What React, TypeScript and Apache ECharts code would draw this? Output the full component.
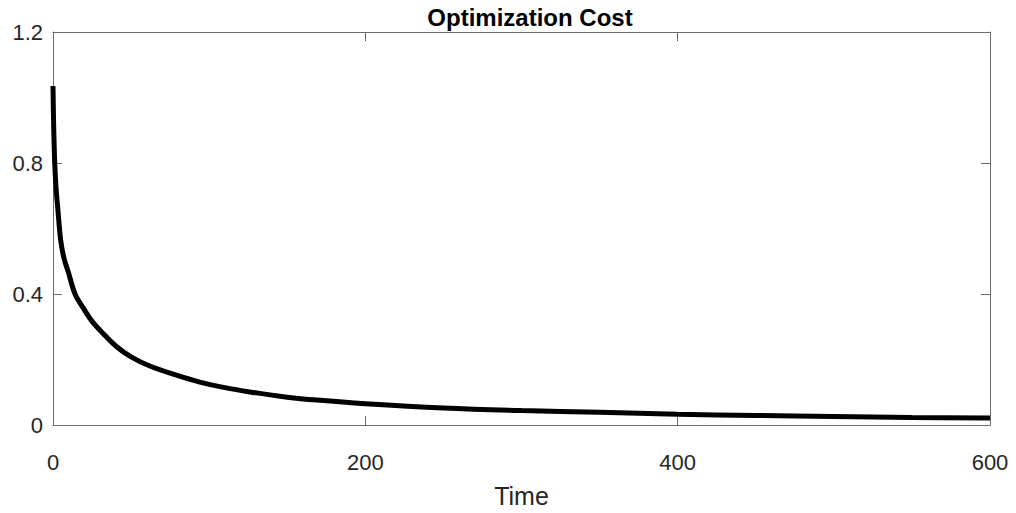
import React, { useEffect, useRef } from "react";
import * as echarts from "echarts";

const titleText = "Optimization Cost";
const xAxisName = "Time";
const xTicks = [0, 200, 400, 600];
const yTicks = [0, 0.4, 0.8, 1.2];

const times = [0, 0.4, 1.1, 2, 3, 4.9, 7, 9.8, 14.1, 19.4, 24.8, 31, 40.8, 50, 62, 79, 94, 110, 126, 150, 169, 200, 250, 300, 350, 400, 450, 500, 550, 600];
const costs = [1.035, 0.92, 0.8, 0.72, 0.665, 0.565, 0.51, 0.467, 0.4, 0.357, 0.318, 0.285, 0.239, 0.208, 0.18, 0.152, 0.131, 0.114, 0.101, 0.085, 0.076, 0.065, 0.052, 0.044, 0.039, 0.033, 0.029, 0.026, 0.023, 0.021];

export default function App() {
  const ref = useRef<HTMLDivElement>(null);
  useEffect(() => {
    if (!ref.current) return;
    const chart = echarts.init(ref.current, null, { renderer: "svg" });
    const frame = "#6a6a6a";
    const labelColor = "#262626";
    const font = "Liberation Sans, Arial, Helvetica, sans-serif";
    const xMin = xTicks[0];
    const xMax = xTicks[xTicks.length - 1];
    const xInt = xTicks[1] - xTicks[0];
    const yMin = yTicks[0];
    const yMax = yTicks[yTicks.length - 1];
    const yInt = yTicks[1] - yTicks[0];
    const tick = { show: true, inside: true, length: 9, lineStyle: { color: frame, width: 1 } };
    const line = { show: true, onZero: false, lineStyle: { color: frame, width: 1 } };
    chart.setOption({
      animation: false,
      backgroundColor: "#ffffff",
      title: {
        text: titleText,
        left: 525,
        textAlign: "center",
        top: 0,
        textStyle: { fontFamily: font, fontWeight: "bold", fontSize: 24, color: "#000000" },
      },
      grid: { left: 53, right: 26, top: 32, bottom: 75, containLabel: false },
      xAxis: [
        {
          type: "value",
          min: xMin,
          max: xMax,
          interval: xInt,
          position: "bottom",
          name: xAxisName,
          nameLocation: "middle",
          nameGap: 58,
          nameTextStyle: { fontFamily: font, fontSize: 25, color: labelColor },
          axisLine: line,
          axisTick: tick,
          splitLine: { show: false },
          axisLabel: { fontFamily: font, fontSize: 22, color: labelColor, margin: 26 },
        },
        {
          type: "value",
          min: xMin,
          max: xMax,
          interval: xInt,
          position: "top",
          axisLine: line,
          axisTick: tick,
          splitLine: { show: false },
          axisLabel: { show: false },
        },
      ],
      yAxis: [
        {
          type: "value",
          min: yMin,
          max: yMax,
          interval: yInt,
          position: "left",
          axisLine: line,
          axisTick: tick,
          splitLine: { show: false },
          axisLabel: { fontFamily: font, fontSize: 22, color: labelColor, margin: 10 },
        },
        {
          type: "value",
          min: yMin,
          max: yMax,
          interval: yInt,
          position: "right",
          axisLine: line,
          axisTick: tick,
          splitLine: { show: false },
          axisLabel: { show: false },
        },
      ],
      series: [
        {
          type: "line",
          xAxisIndex: 0,
          yAxisIndex: 0,
          data: times.map((t, i) => [t, costs[i]]),
          showSymbol: false,
          symbol: "none",
          smooth: 0.35,
          lineStyle: { color: "#000000", width: 5 },
        },
      ],
    });
    return () => chart.dispose();
  }, []);
  return (
    <div
      ref={ref}
      style={{ position: "fixed", left: 0, top: 0, width: 1016, height: 513, background: "#fff" }}
    />
  );
}
